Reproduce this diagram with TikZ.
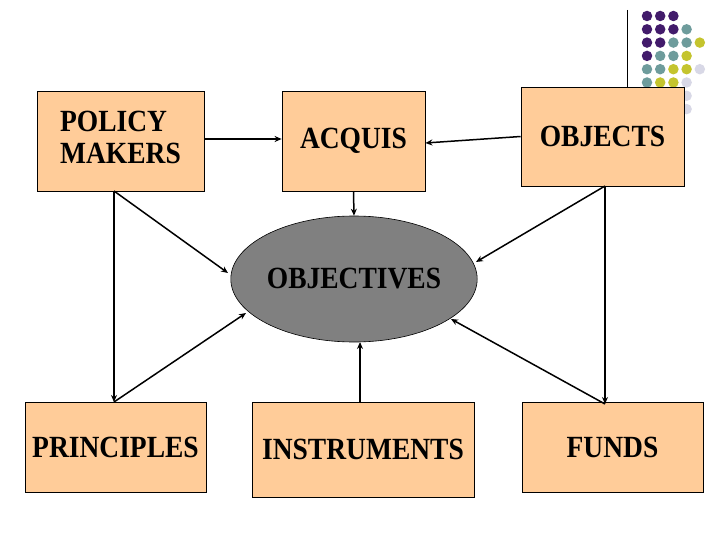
\documentclass[tikz,border=0pt]{standalone}
\usepackage{fontspec}
\setmainfont{Liberation Serif}
\usepackage{graphicx}
\usetikzlibrary{shapes.geometric,arrows.meta}
\definecolor{peach}{HTML}{FFCC99}
\definecolor{ellgray}{HTML}{808080}
\definecolor{dpurple}{HTML}{421B6B}
\definecolor{dteal}{HTML}{6E9C9C}
\definecolor{dyellow}{HTML}{C4C42E}
\definecolor{dlight}{HTML}{D8D8E6}
\newcommand\stt[1]{\scalebox{1}[1.12]{#1}}
\begin{document}
\begin{tikzpicture}[x=1pt,y=-1pt,
  box/.style={draw=black, line width=0.8pt, fill=peach, inner sep=0pt, font=\fontsize{27.5}{33}\selectfont\bfseries, align=center},
  ell/.style={ellipse, draw=black, line width=0.6pt, fill=ellgray, inner sep=0pt, font=\fontsize{27.5}{33}\selectfont\bfseries},
  arr/.style={line width=1.5pt, -{Stealth[length=7pt,width=6pt]}},
  dot/.style={circle, inner sep=0pt, minimum size=10.5pt}]
\useasboundingbox (0,0) rectangle (720,540);
\fill[white] (0,0) rectangle (720,540);
% decoration dots
\foreach \r/\cols in {0/{dpurple,dpurple,dpurple},
                      1/{dpurple,dpurple,dpurple,dteal},
                      2/{dpurple,dpurple,dteal,dteal,dyellow},
                      3/{dpurple,dteal,dteal,dyellow},
                      4/{dteal,dteal,dyellow,dyellow,dlight},
                      5/{dteal,dyellow,dyellow,dlight},
                      6/{dyellow,dyellow,dlight,dlight},
                      7/{dyellow,dlight,dlight,dlight}}{
  \foreach \c [count=\i from 0] in \cols {
    \node[dot, fill=\c] (d\r\i) at (647+13.2*\i, 16+13.3*\r) {};
  }
}
\coordinate (vtop) at (627,10);
\coordinate (vbot) at (627,88);
\draw[line width=1pt] (vtop) -- (vbot);
% boxes
\node[box, minimum width=167, minimum height=100, align=left] (pm) at (120.5,141) {\stt{\fontsize{27.5}{29}\selectfont\begin{tabular}{@{}l@{}}POLICY\\MAKERS\end{tabular}}};
\node[box, minimum width=143, minimum height=100] (acq) at (353.5,141) {\stt{ACQUIS}};
\node[box, minimum width=163, minimum height=99] (objs) at (602.5,136.5) {\stt{OBJECTS}};
\node[box, minimum width=181, minimum height=90] (prin) at (115.5,447) {\stt{PRINCIPLES}};
\node[box, minimum width=222, minimum height=95] (inst) at (363,449.5) {\stt{INSTRUMENTS}};
\node[box, minimum width=181, minimum height=90] (funds) at (612.5,447) {\stt{FUNDS}};
\node[ell, minimum width=240, minimum height=126] (obj) at (354,279) {\stt{OBJECTIVES}};
% connector points
\coordinate (pmA) at (114,191);
\coordinate (prinA) at (114,402);
\coordinate (objsA) at (605,186);
\coordinate (fundsA) at (605,404);
\coordinate (eA) at (228,273);
\coordinate (eB) at (246,313);
\coordinate (eC) at (476,262);
\coordinate (eD) at (451,319);
\coordinate (instA) at (360,402);
\coordinate (eE) at (360,342);
% connectors
\draw[arr] ([yshift=2pt]pm.east) -- ([yshift=2pt]acq.west);
\draw[arr] (objs.west) -- ([yshift=-2pt]acq.east);
\draw[arr] (acq.south) -- (obj.north);
\draw[arr] (pmA) -- (eA);
\draw[arr] (pmA) -- (prinA);
\draw[arr] (prinA) -- (eB);
\draw[arr] (objsA) -- (eC);
\draw[arr] (objsA) -- (fundsA);
\draw[arr] (fundsA) -- (eD);
\draw[arr] (instA) -- (eE);
\end{tikzpicture}
\end{document}
